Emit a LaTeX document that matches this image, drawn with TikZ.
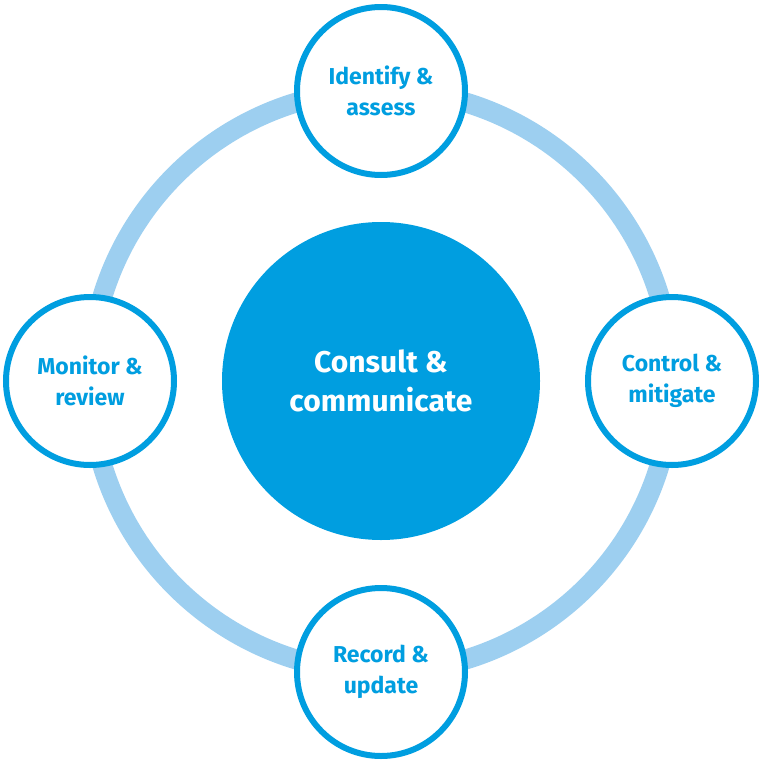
\documentclass[tikz,border=0pt]{standalone}
\usepackage{fontspec}
\setmainfont{Fira Sans}
\definecolor{mainblue}{HTML}{009EE0}
\definecolor{ringblue}{HTML}{9DCFF0}
\begin{document}
\begin{tikzpicture}[x=1pt,y=-1pt,
  small/.style={circle,draw=mainblue,line width=6pt,fill=white,minimum size=168pt,inner sep=0pt,align=center,text=mainblue,font=\fontsize{23}{31}\selectfont\bfseries},
  big/.style={circle,fill=mainblue,minimum size=318pt,inner sep=0pt,align=center,text=white,font=\fontsize{30}{39}\selectfont\bfseries}]
\useasboundingbox (0,0) rectangle (761,763);
\coordinate (c) at (381,381);
\draw[ringblue,line width=20pt] (c) circle[radius=291];
\node[big] (center) at (c) {Consult \&\\communicate};
\node[small] (top) at (381,91) {Identify \&\\assess};
\node[small] (right) at (672,381) {Control \&\\mitigate};
\node[small] (bottom) at (381,672) {Record \&\\update};
\node[small] (left) at (90,381) {Monitor \&\\review};
\end{tikzpicture}
\end{document}
